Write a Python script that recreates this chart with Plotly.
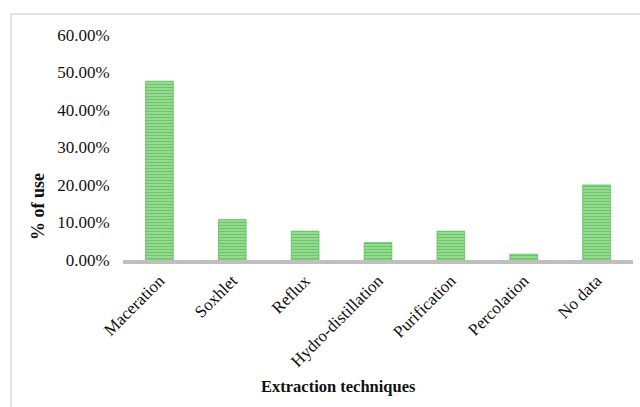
import plotly.graph_objects as go

# Extraction techniques and their share of use
techniques = ["Maceration", "Soxhlet", "Reflux", "Hydro-distillation",
              "Purification", "Percolation", "No data"]
share_of_use = [0.4769, 0.1077, 0.0769, 0.0462, 0.0769, 0.0154, 0.2000]
y_ticks = [0.0, 0.1, 0.2, 0.3, 0.4, 0.5, 0.6]

W, H = 640, 407
L, R, T, B = 123, 7, 35, 147
pw, ph = W - L - R, H - T - B

def px_x(x):
    return (x - L) / pw

def px_y(y):
    return (H - B - y) / ph

serif = "Liberation Serif, Times New Roman, serif"
ink = "#111111"

fig = go.Figure(
    go.Bar(
        x=techniques,
        y=share_of_use,
        width=0.38,
        marker=dict(
            color="#9ddf96",
            line=dict(color="#5cc05c", width=0.8),
            pattern=dict(shape="-", fgcolor="#2eaa36", bgcolor="#a3e19c",
                         size=3, solidity=0.5),
        ),
        hoverinfo="skip",
    )
)

fig.update_layout(
    width=W, height=H,
    margin=dict(l=L, r=R, t=T, b=B),
    paper_bgcolor="white", plot_bgcolor="white",
    showlegend=False,
    font=dict(family=serif, size=17, color=ink),
    bargap=0.62,
)

fig.update_xaxes(
    tickangle=-45,
    tickfont=dict(family=serif, size=17, color=ink),
    showline=True, linecolor="#bfbfbf", linewidth=4,
    showgrid=False, ticks="",
    fixedrange=True,
)
fig.update_yaxes(
    range=[0, 0.6],
    tickvals=y_ticks,
    tickformat=".2%",
    tickfont=dict(family=serif, size=17, color=ink),
    showgrid=False, zeroline=False, showline=False,
    ticks="outside", ticklen=9, tickcolor="rgba(0,0,0,0)",
    fixedrange=True,
)

# Axis titles
fig.add_annotation(
    x=px_x(38), y=px_y(207), xref="paper", yref="paper",
    text="<b>% of use</b>", textangle=-90, showarrow=False,
    font=dict(family=serif, size=18, color=ink),
    xanchor="center", yanchor="middle",
)
fig.add_annotation(
    x=px_x(338), y=px_y(386), xref="paper", yref="paper",
    text="<b>Extraction techniques</b>", showarrow=False,
    font=dict(family=serif, size=16.5, color=ink),
    xanchor="center", yanchor="middle",
)

# Chart frame
fig.add_shape(
    type="rect", xref="paper", yref="paper",
    x0=px_x(11), x1=px_x(660), y0=px_y(430), y1=px_y(14),
    line=dict(color="#d9d9d9", width=1.5), fillcolor="rgba(0,0,0,0)",
    layer="below",
)

fig.write_html("out.html")
